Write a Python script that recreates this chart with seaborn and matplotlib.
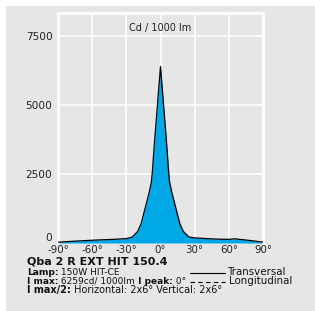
import matplotlib
matplotlib.use("Agg")
import matplotlib.pyplot as plt
import seaborn as sns
import pandas as pd
from matplotlib.patches import Rectangle
from matplotlib.lines import Line2D

angles = [-90, -80, -70, -60, -50, -40, -30, -25, -20, -17, -15, -12, -10, -8, -7, -6, -5, -2.5, 0,
          2.5, 5, 6, 7, 8, 10, 12, 15, 17, 20, 25, 30, 40, 50, 60, 65, 70, 80, 90]
transversal = [30, 55, 78, 100, 118, 135, 160, 210, 420, 700, 1020, 1500, 1820, 2200, 2650, 3250, 3800, 5100, 6390,
               5100, 3800, 3250, 2650, 2200, 1820, 1500, 1020, 700, 420, 215, 185, 160, 140, 132, 152, 130, 85, 30]
xticks = [-90, -60, -30, 0, 30, 60, 90]
yticks = [0, 2500, 5000, 7500]
title = "Qba 2 R EXT HIT 150.4"

df = pd.DataFrame({"angle": angles, "cd": transversal})

BG = "#e6e6e6"
BLUE = "#00a8e6"
sns.set_theme(style="darkgrid", rc={
    "axes.facecolor": BG,
    "grid.color": "white",
    "grid.linewidth": 1.2,
    "axes.edgecolor": "white",
})
plt.rcParams["font.family"] = ["DejaVu Sans"]

fig = plt.figure(figsize=(3.15, 3.11), dpi=100)
fig.patch.set_facecolor(BG)
# white strips on the left and top edge
fig.patches.append(Rectangle((0, 0), 6 / 315, 1, transform=fig.transFigure,
                             facecolor="white", edgecolor="none", zorder=-10))
fig.patches.append(Rectangle((0, 1 - 6 / 311), 1, 6 / 311, transform=fig.transFigure,
                             facecolor="white", edgecolor="none", zorder=-10))

ax = fig.add_axes([58 / 315, (311 - 243) / 311, 205 / 315, 230 / 311])
ax.set_zorder(5)
ax.fill_between(df["angle"], df["cd"], 0, color=BLUE, zorder=2, linewidth=0)
sns.lineplot(data=df, x="angle", y="cd", ax=ax, color="black", linewidth=0.9, zorder=3)

ax.set_xlim(-90, 90)
ax.set_ylim(0, 8330)
ax.set_xticks(xticks)
ax.set_xticklabels([f"{t}°" for t in xticks], fontsize=7.4, color="#222222")
ax.set_yticks(yticks)
ax.set_yticklabels([str(t) for t in yticks], fontsize=7.6, color="#222222")
ax.tick_params(axis="both", length=0, pad=1.5)
ax.tick_params(axis="y", pad=4)
ax.get_yticklabels()[0].set_va("bottom")
ax.set_xlabel("")
ax.set_ylabel("")
for s in ["left", "top", "right"]:
    ax.spines[s].set_visible(True)
    ax.spines[s].set_color("white")
    ax.spines[s].set_linewidth(2)
ax.spines["bottom"].set_visible(False)
ax.text(0.5, 0.935, "Cd / 1000 lm", transform=ax.transAxes, ha="center", va="center",
        fontsize=7.0, color="#222222")

def fy(py):
    return 1 - py / 311

fig.text(27 / 315, fy(261.5), title, fontsize=8.0, fontweight="bold", va="center", color="#111111", zorder=6)
lines = [
    ("Lamp:", " 150W HIT-CE", 272.5, 6.6),
    ("I max:", " 6259cd/ 1000lm", 281.3, 6.5),
    ("I max/2:", " Horizontal: 2x6° Vertical: 2x6°", 290.3, 7.0),
]
r = fig.canvas.get_renderer()
for b, n, py, fs in lines:
    t = fig.text(27 / 315, fy(py), b, fontsize=fs, fontweight="bold", va="center", color="#111111", zorder=6)
    bb = t.get_window_extent(renderer=r)
    t2 = fig.text(bb.x1 / fig.bbox.width, fy(py), n, fontsize=fs, va="center", color="#111111", zorder=6)
    if b == "I max:":
        bb2 = t2.get_window_extent(renderer=r)
        t3 = fig.text(bb2.x1 / fig.bbox.width, fy(py), " I peak:", fontsize=fs, fontweight="bold",
                      va="center", color="#111111", zorder=6)
        bb3 = t3.get_window_extent(renderer=r)
        fig.text(bb3.x1 / fig.bbox.width, fy(py), " 0°", fontsize=fs, va="center", color="#111111", zorder=6)

lfs = 7.4
fig.lines.append(Line2D([190 / 315, 225 / 315], [fy(272.5)] * 2, transform=fig.transFigure,
                        color="black", linewidth=0.8, zorder=6))
fig.text(227 / 315, fy(272.3), "Transversal", fontsize=lfs, va="center", color="#111111", zorder=6)
fig.lines.append(Line2D([190 / 315, 225 / 315], [fy(281.5)] * 2, transform=fig.transFigure,
                        color="black", linewidth=0.8, linestyle=(0, (4, 3)), zorder=6))
fig.text(229 / 315, fy(281.3), "Longitudinal", fontsize=lfs, va="center", color="#111111", zorder=6)

fig.savefig("out.png", dpi=100, facecolor=fig.get_facecolor())
